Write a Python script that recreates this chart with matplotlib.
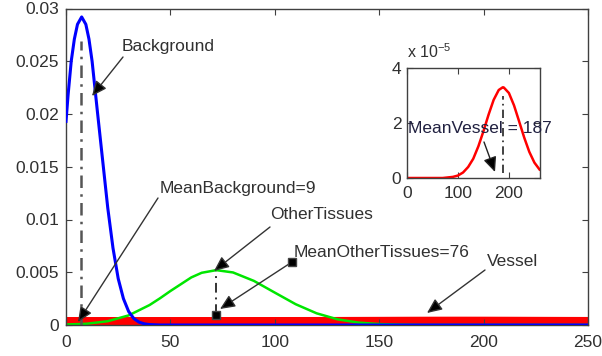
"""Tissue intensity distributions with vessel inset."""

import matplotlib.pyplot as plt
from matplotlib.patches import FancyArrowPatch

plt.rcParams["font.family"] = ["Liberation Sans", "DejaVu Sans"]
plt.rcParams["mathtext.default"] = "regular"

W, H = 602, 356

# Background (blue)
bg_x = [0, 1, 2.5, 4, 5.5, 7.5, 9.5, 11, 12.5, 15, 17.5, 20, 22.5, 25,
        27.5, 30, 32.5, 35, 37.5, 40, 45, 250]
bg_y = [0.0193, 0.0218, 0.0250, 0.0271, 0.0285, 0.0292, 0.0285, 0.0271,
        0.0250, 0.0203, 0.0157, 0.0111, 0.0073, 0.0044, 0.0025, 0.00128,
        0.00061, 0.00027, 0.00011, 0.00004, 0, 0]

# Other tissues (green)
ot_x = [0, 5, 10, 20, 30, 40, 45, 50, 60, 65, 72, 80, 90, 100, 110, 120,
        130, 140, 150, 160, 170, 250]
ot_y = [0.00005, 0.00008, 0.00012, 0.00036, 0.00091, 0.00189, 0.00253,
        0.00322, 0.00451, 0.00495, 0.0052, 0.00498, 0.00418, 0.00307,
        0.00197, 0.00111, 0.00054, 0.00023, 0.00009, 0.00003, 0, 0]

# Vessel (red)
vs_x = [0, 70, 80, 90, 100, 110, 120, 130, 140, 150, 160, 170, 180, 188,
        190, 200, 210, 220, 230, 240, 250, 260]
vs_y = [0, 0, 0.02e-5, 0.04e-5, 0.09e-5, 0.20e-5, 0.40e-5, 0.70e-5,
        1.15e-5, 1.70e-5, 2.30e-5, 2.84e-5, 3.20e-5, 3.30e-5, 3.29e-5,
        3.09e-5, 2.64e-5, 2.06e-5, 1.47e-5, 0.95e-5, 0.56e-5, 0.31e-5]

# mean markers drawn as dash-dot lines (x, y_from, y_to)
bg_mean_line = [7, 0, 0.0269]
ot_mean_line = [72, 0.0010, 0.0051]
vs_mean_line = [188, 0.2e-5, 3.0e-5]

x_ticks = [0, 50, 100, 150, 200, 250]
y_ticks = [0, 0.005, 0.01, 0.015, 0.02, 0.025, 0.03]
y_tick_labels = ["0", "0.005", "0.01", "0.015", "0.02", "0.025", "0.03"]
inset_x_ticks = [0, 100, 200]
inset_y_ticks = [0, 2e-5, 4e-5]
inset_y_tick_labels = ["0", "2", "4"]

TXT = "#303030"
SPINE = "#404040"


def px(x, y):
    return (x / W, 1 - y / H)


def arrow(fig, tail, head, color="#333333"):
    a = FancyArrowPatch(px(*tail), px(*head), transform=fig.transFigure,
                        arrowstyle="-|>,head_length=0.45,head_width=0.2",
                        mutation_scale=20, color=color, lw=1.0,
                        shrinkA=0, shrinkB=0, zorder=10)
    a.set_facecolor("black")
    fig.add_artist(a)


def style(ax, size):
    ax.tick_params(direction="in", top=True, right=True, length=4,
                   color=SPINE, labelcolor=TXT, labelsize=size)
    for s in ax.spines.values():
        s.set_color(SPINE)
        s.set_linewidth(1.0)


fig = plt.figure(figsize=(W / 100, H / 100), dpi=100)
ax = fig.add_axes([66 / W, 1 - 325 / H, 522 / W, 316.5 / H])

ax.plot(vs_x, vs_y, color="red", lw=11.5, solid_capstyle="butt", zorder=1)
ax.plot(ot_x, ot_y, color="#00e600", lw=1.8, zorder=2)
ax.plot(bg_x, bg_y, color="blue", lw=2.2, zorder=3)
ax.plot([bg_mean_line[0]] * 2, bg_mean_line[1:], color="#555555",
        lw=1.8, ls=(0, (5, 2.5, 1, 2.5)), zorder=4)
ax.plot([ot_mean_line[0]] * 2, ot_mean_line[1:], color="#333333",
        lw=1.4, ls=(0, (5, 2.5, 1, 2.5)), zorder=4)

ax.set_xlim(0, 250)
ax.set_ylim(0, 0.03)
ax.set_xticks(x_ticks)
ax.set_yticks(y_ticks)
ax.set_yticklabels(y_tick_labels)
style(ax, 12.5)
ax.tick_params(axis="x", pad=7)
ax.tick_params(axis="y", pad=5)

# inset
ins = fig.add_axes([407 / W, 1 - 178 / H, 132.5 / W, 110 / H])
ins.plot(vs_x, vs_y, color="red", lw=1.8)
ins.plot([vs_mean_line[0]] * 2, vs_mean_line[1:], color="#222222",
         lw=1.2, ls=(0, (5, 2.5, 1, 2.5)))
ins.set_xlim(0, 260)
ins.set_ylim(0, 4e-5)
ins.set_xticks(inset_x_ticks)
ins.set_yticks(inset_y_ticks)
ins.set_yticklabels(inset_y_tick_labels)
style(ins, 12.5)
ins.tick_params(axis="x", pad=6)
ins.tick_params(axis="y", pad=4)
fig.text(*px(407, 58), "x 10$^{-5}$", color=TXT, fontsize=11.5,
         ha="left", va="baseline")

# annotations
fs = 12.5
fig.text(*px(122, 51), "Background", color=TXT, fontsize=fs, va="baseline")
arrow(fig, (123, 57), (92, 96))
fig.text(*px(160, 193), "MeanBackground=9", color=TXT, fontsize=fs,
         va="baseline")
arrow(fig, (158, 198), (78, 322))
fig.text(*px(270, 219), "OtherTissues", color=TXT, fontsize=fs,
         va="baseline")
arrow(fig, (270, 227), (214, 271))
fig.text(*px(294, 257), "MeanOtherTissues=76", color=TXT, fontsize=fs,
         va="baseline")
arrow(fig, (292, 262), (220, 309))
fig.text(*px(487, 266), "Vessel", color=TXT, fontsize=fs, va="baseline")
arrow(fig, (485, 270), (427, 313))
fig.text(*px(408, 133), "MeanVessel = 187", color="#202040", fontsize=fs,
         va="baseline", zorder=11)
arrow(fig, (484, 142), (495, 172), color="#222222")

for sq in [(292, 262), (216, 315)]:
    fig.add_artist(plt.Line2D([px(*sq)[0]], [px(*sq)[1]], marker="s",
                              ms=6, color="black", mec="#444444",
                              transform=fig.transFigure, zorder=12))

fig.savefig("out.png", dpi=100)
